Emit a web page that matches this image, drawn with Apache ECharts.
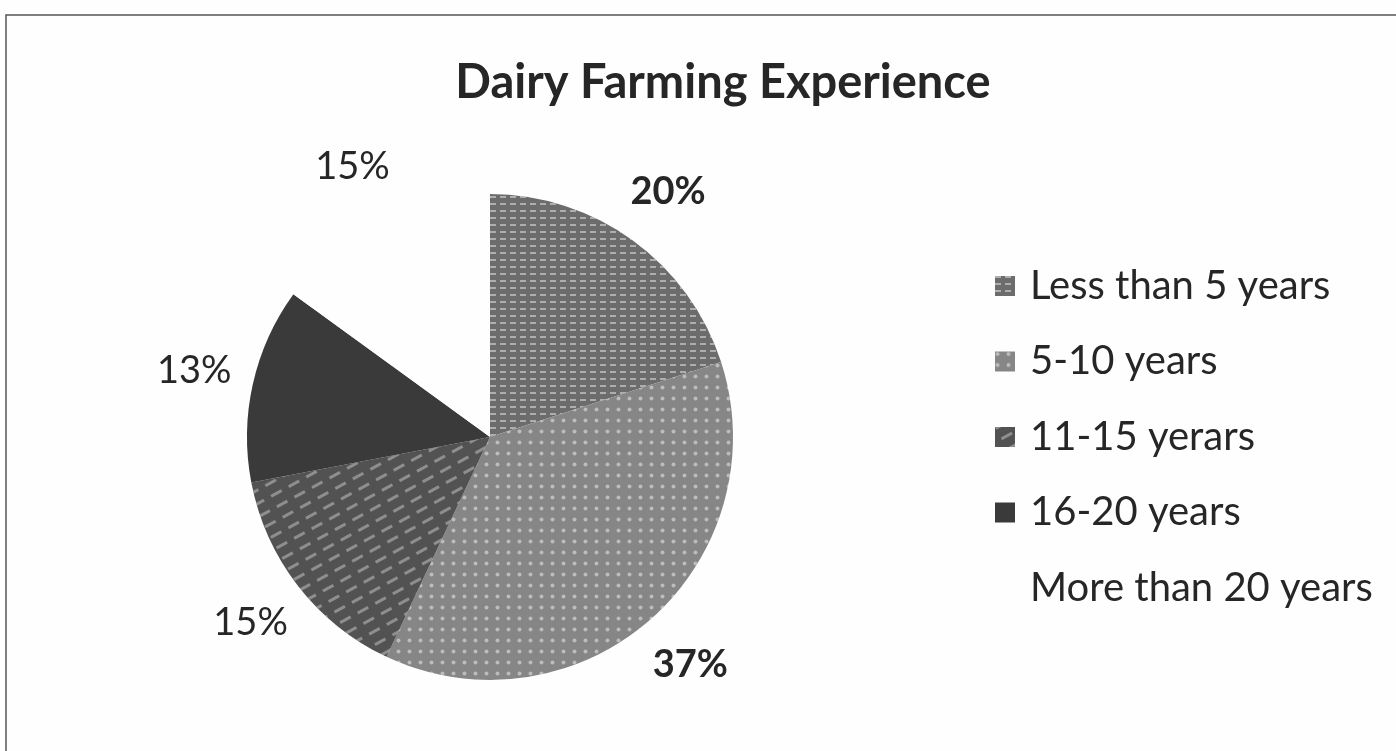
<!DOCTYPE html>
<html>
<head>
<meta charset="utf-8">
<script src="https://cdn.jsdelivr.net/npm/echarts@6/dist/echarts.min.js"></script>
<style>
html,body{margin:0;padding:0;background:#fefefe;}
#chart{width:1396px;height:751px;}
</style>
</head>
<body>
<div id="chart"></div>
<script>
const titleText = 'Dairy Farming Experience';
const categories = ['Less than 5 years', '5-10 years', '11-15 yerars', '16-20 years', 'More than 20 years'];
const values = [20, 37, 15, 13, 15];
const sliceColors = ['#6c6c6c', '#868686', '#525252', '#3a3a3a', '#fefefe'];
const boldLabel = [true, true, false, false, false];

const chart = echarts.init(document.getElementById('chart'));
const FONT = 'Lato, "Open Sans", sans-serif';

const decals = [
  {symbol: 'rect', symbolSize: 1, color: 'rgba(255,255,255,0.45)', dashArrayX: [[6, 4]], dashArrayY: [2, 5]},
  {symbol: 'circle', symbolSize: 0.8, color: 'rgba(255,255,255,0.45)', dashArrayX: [[5, 6]], dashArrayY: [5, 6]},
  {symbol: 'rect', symbolSize: 1, color: 'rgba(255,255,255,0.35)', dashArrayX: [[12, 8]], dashArrayY: [3, 9], rotation: -0.5},
  null,
  null
];

const mainData = categories.map((n, i) => {
  const o = {name: n, value: values[i], itemStyle: {color: sliceColors[i]}};
  if (decals[i]) o.itemStyle.decal = decals[i];
  return o;
});
const labelData = categories.map((n, i) => ({
  name: n, value: values[i],
  label: {fontWeight: boldLabel[i] ? 'bold' : 'normal'}
}));

chart.setOption({
  backgroundColor: '#fefefe',
  animation: false,
  title: {
    text: titleText,
    left: 718, top: 78, textAlign: 'center', textVerticalAlign: 'middle',
    textStyle: {fontFamily: FONT, fontSize: 47, fontWeight: 'bold', color: '#262626'}
  },
  legend: {
    orient: 'vertical',
    left: 990, top: 257,
    icon: 'rect',
    itemWidth: 20, itemHeight: 20,
    itemGap: 27.5,
    data: categories,
    selectedMode: false,
    textStyle: {fontFamily: FONT, fontSize: 40, color: '#262626', lineHeight: 48, padding: [0, 0, 0, 10]}
  },
  graphic: [{
    type: 'rect', shape: {x: 6, y: 15, width: 1500, height: 900},
    style: {fill: 'none', stroke: '#555', lineWidth: 1.5}, silent: true
  }],
  series: [{
    type: 'pie',
    center: [490, 437],
    radius: [0, 243],
    startAngle: 90,
    clockwise: true,
    silent: true,
    label: {show: false},
    labelLine: {show: false},
    itemStyle: {borderWidth: 0},
    data: mainData
  }, {
    type: 'pie',
    center: [490, 437],
    radius: [287, 313],
    startAngle: 90,
    clockwise: true,
    silent: true,
    itemStyle: {color: 'rgba(0,0,0,0)', borderWidth: 0},
    label: {
      show: true, position: 'inside', formatter: '{c}%',
      fontFamily: FONT, fontSize: 38, color: '#262626'
    },
    labelLine: {show: false},
    data: labelData
  }]
});
</script>
</body>
</html>
